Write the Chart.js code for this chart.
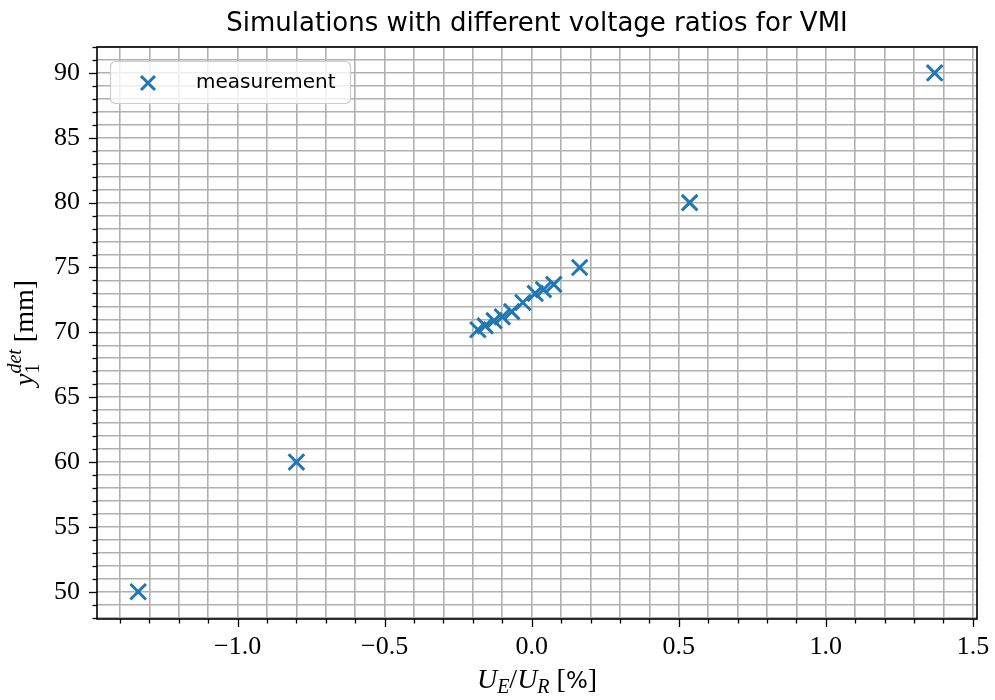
<!DOCTYPE html>
<html>
<head>
<meta charset="utf-8">
<script src="https://cdn.jsdelivr.net/npm/chart.js@4/dist/chart.umd.min.js"></script>
<style>
  body { margin: 0; background: #fff; }
</style>
</head>
<body>
<canvas id="chart" width="995" height="700"></canvas>
<script>
    // measured points (U_E/U_R in %, y1 det in mm)
    const xValues = [-1.338, -0.80, -0.183, -0.158, -0.128, -0.100, -0.068, -0.030, 0.012, 0.040, 0.075, 0.163, 0.537, 1.370];
    const yValues = [50, 60, 70.2, 70.5, 70.9, 71.2, 71.6, 72.3, 73.0, 73.3, 73.7, 75, 80, 90];
    const xRange = [-1.478, 1.514];
    const yRange = [47.9, 92.0];

    const blue = '#1f77b4';
    const serif = '"Liberation Serif", "DejaVu Serif", serif';
    const sans = '"DejaVu Sans", sans-serif';

    function isMajor(v, step) {
        const r = v / step;
        return Math.abs(r - Math.round(r)) < 1e-6;
    }

    function fmtX(v) {
        const s = Math.abs(v).toFixed(1);
        return v < -1e-9 ? '\u2212' + s : s;
    }

    // draws a row of text pieces centred on x
    function drawPieces(ctx, pieces, x, y) {
        let w = 0;
        pieces.forEach(p => {
            ctx.font = p.font;
            p.w = p.adv === 0 ? 0 : ctx.measureText(p.t).width;
            w += p.w;
        });
        let cx = x - w / 2;
        pieces.forEach(p => {
            ctx.font = p.font;
            ctx.fillText(p.t, cx, y + (p.dy || 0));
            cx += p.w;
        });
    }

    const decorations = {
        id: 'decorations',
        afterDatasetsDraw(chart) {
            const { ctx, chartArea: a, scales: { x, y } } = chart;
            ctx.save();
            ctx.strokeStyle = '#000';
            ctx.lineWidth = 1.3;

            x.ticks.forEach(t => {
                const px = Math.round(x.getPixelForValue(t.value)) + 0.5;
                ctx.beginPath();
                ctx.moveTo(px, a.bottom);
                ctx.lineTo(px, a.bottom + (isMajor(t.value, 0.5) ? 8 : 4.5));
                ctx.stroke();
            });
            y.ticks.forEach(t => {
                const py = Math.round(y.getPixelForValue(t.value)) + 0.5;
                ctx.beginPath();
                ctx.moveTo(a.left, py);
                ctx.lineTo(a.left - (isMajor(t.value, 5) ? 8 : 4.5), py);
                ctx.stroke();
            });

            ctx.lineWidth = 1.6;
            ctx.strokeRect(a.left, a.top, a.right - a.left, a.bottom - a.top);

            // legend box
            ctx.beginPath();
            ctx.roundRect(110.5, 61.5, 240, 42, 5);
            ctx.fillStyle = 'rgba(255,255,255,0.8)';
            ctx.fill();
            ctx.strokeStyle = '#cccccc';
            ctx.lineWidth = 1.2;
            ctx.stroke();

            ctx.strokeStyle = blue;
            ctx.lineWidth = 3;
            ctx.beginPath();
            ctx.moveTo(141, 76); ctx.lineTo(155, 90);
            ctx.moveTo(155, 76); ctx.lineTo(141, 90);
            ctx.stroke();

            ctx.fillStyle = '#000';
            ctx.font = '20px ' + sans;
            ctx.textBaseline = 'middle';
            ctx.textAlign = 'left';
            ctx.fillText('measurement', 196, 83);

            // title
            ctx.textAlign = 'center';
            ctx.textBaseline = 'alphabetic';
            ctx.font = '26px ' + sans;
            ctx.fillText('Simulations with different voltage ratios for VMI', (a.left + a.right) / 2, 31);

            // x axis label
            ctx.textAlign = 'left';
            const it = 'italic 28px ' + serif;
            const itS = 'italic 20px ' + serif;
            const up = '28px ' + serif;
            drawPieces(ctx, [
                { t: 'U', font: it },
                { t: 'E', font: itS, dy: 5 },
                { t: '/', font: up },
                { t: 'U', font: it },
                { t: 'R', font: itS, dy: 5 },
                { t: ' [', font: up },
                { t: '%', font: '23px ' + sans },
                { t: ']', font: up }
            ], (a.left + a.right) / 2, 688);

            // y axis label
            ctx.save();
            ctx.translate(33, (a.top + a.bottom) / 2);
            ctx.rotate(-Math.PI / 2);
            drawPieces(ctx, [
                { t: 'y', font: it },
                { t: 'det', font: itS, dy: -12, adv: 0 },
                { t: '1', font: '20px ' + serif, dy: 6, adv: 0 },
                { t: 'det', font: itS, dy: -100 },
                { t: ' [mm]', font: up }
            ], 0, 0);
            ctx.restore();

            ctx.restore();
        }
    };

    const points = xValues.map((v, i) => ({ x: v, y: yValues[i] }));

    new Chart(document.getElementById('chart'), {
        type: 'scatter',
        data: {
            datasets: [{
                label: 'measurement',
                data: points,
                pointStyle: 'crossRot',
                pointRadius: 11,
                pointHoverRadius: 11,
                borderColor: blue,
                backgroundColor: blue,
                pointBorderWidth: 3
            }]
        },
        options: {
            responsive: false,
            animation: false,
            events: [],
            layout: { padding: { top: 47, right: 18, left: 0, bottom: 0 } },
            plugins: {
                legend: { display: false },
                tooltip: { enabled: false }
            },
            scales: {
                x: {
                    type: 'linear',
                    min: xRange[0],
                    max: xRange[1],
                    afterFit: s => { s.height = 81; s.paddingLeft = 0; s.paddingRight = 0; },
                    border: { display: false },
                    grid: { color: '#b0b0b0', lineWidth: 1.6, drawTicks: false },
                    ticks: {
                        stepSize: 0.1,
                        includeBounds: false,
                        autoSkip: false,
                        maxTicksLimit: 100,
                        maxRotation: 0,
                        padding: 13,
                        color: '#000',
                        font: { family: serif, size: 26 },
                        callback: v => isMajor(v, 0.5) ? fmtX(v) : ''
                    }
                },
                y: {
                    type: 'linear',
                    min: yRange[0],
                    max: yRange[1],
                    afterFit: s => { s.width = 97; s.paddingTop = 0; s.paddingBottom = 0; },
                    border: { display: false },
                    grid: { color: '#b0b0b0', lineWidth: 1.6, drawTicks: false },
                    ticks: {
                        stepSize: 1,
                        includeBounds: false,
                        autoSkip: false,
                        maxTicksLimit: 100,
                        padding: 17,
                        color: '#000',
                        font: { family: serif, size: 26 },
                        callback: v => isMajor(v, 5) ? String(Math.round(v)) : ''
                    }
                }
            }
        },
        plugins: [decorations]
    });
</script>
</body>
</html>
